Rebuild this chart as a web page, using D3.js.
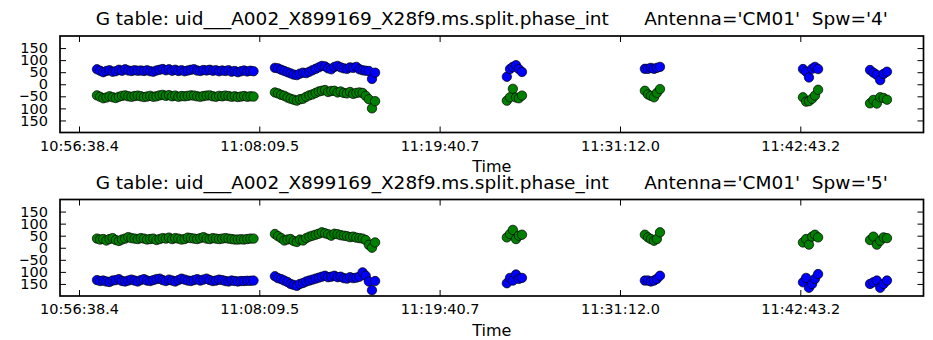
<!DOCTYPE html>
<html><head><meta charset="utf-8">
<script src="https://cdn.jsdelivr.net/npm/d3@7"></script>
<style>
body{margin:0;background:#fff}
svg{display:block}
text{font-family:"DejaVu Sans",sans-serif;fill:#000}
</style>
</head><body>
<svg id="c" width="933" height="340"></svg>
<script>
// ---- data ----
const xTickLabels = ["10:56:38.4","11:08:09.5","11:19:40.7","11:31:12.0","11:42:43.2"];
const yTickValues = [-150,-100,-50,0,50,100,150];
const spwNames = ["4","5"];
const tableName = "uid___A002_X899169_X28f9.ms.split.phase_int";
const antenna = "CM01";
// integration times, seconds after 10:56:38.4, one array per scan
const scanTimes = [
  [69,81,93,105,117,129,141,153,165,177,189,201,213,225,237,249,261,273,285,297,
   309,321,333,345,357,369,381,393,405,417,429,441,453,465,477,489,501,513,525,537,
   549,561,573,585,597,609,621,633,645,657,669],
  [751,763,775,787,799,811,823,835,847,859,871,883,895,907,919,931,943,955,967,979,
   991,1003,1015,1027,1039,1051,1063,1075,1087,1099,1111,1123,1135],
  [1640,1652,1663,1675,1686,1698],
  [2169,2181,2192,2204,2215,2227],
  [2775,2787,2798,2810,2821,2833],
  [3032,3045,3058,3071,3084,3097]
];
// phases (deg), polarization 1 (blue) and 2 (green), per scan
const spw4Pol1 = [
  [62,56,50,55,58,52,54,60,56,62,57,55,58,56,57,55,58,54,52,57,60,63,58,62,56,60,55,58,54,57,
   60,62,57,55,59,57,60,56,58,54,57,55,58,52,55,50,54,57,53,56,54],
  [68,66,60,55,50,45,40,38,44,48,46,52,58,64,70,76,74,66,62,72,76,70,66,64,70,68,72,62,58,56,55,22,48],
  [31,63,72,79,63,51],
  [64,64,68,64,68,72],
  [63,52,28,64,72,63],
  [59,48,39,17,43,52]
];
const spw4Pol2 = [
  [-46,-52,-58,-55,-50,-54,-57,-52,-48,-46,-50,-52,-49,-47,-50,-53,-51,-48,-52,-50,
   -46,-44,-48,-45,-50,-47,-52,-49,-50,-48,-46,-47,-50,-52,-49,-47,-46,-50,-52,-48,
   -50,-47,-49,-52,-50,-53,-51,-49,-52,-50,-51],
  [-34,-38,-44,-48,-55,-60,-64,-68,-62,-60,-52,-46,-42,-36,-30,-27,-24,-32,-28,-27,
   -34,-30,-36,-38,-32,-40,-36,-34,-36,-48,-62,-100,-70],
  [-68,-54,-19,-55,-58,-47],
  [-27,-42,-48,-54,-36,-20],
  [-54,-72,-70,-60,-47,-23],
  [-79,-65,-80,-54,-57,-64]
];
const spw5Pol1 = [
  [-134,-138,-136,-140,-142,-136,-134,-130,-138,-140,-136,-132,-136,-140,-134,-130,-136,-138,-134,-130,
   -128,-134,-138,-132,-136,-140,-134,-128,-132,-136,-138,-134,-130,-136,-132,-128,-134,-138,-136,-132,
   -134,-138,-140,-136,-138,-140,-138,-138,-137,-137,-136],
  [-118,-126,-130,-136,-142,-150,-154,-158,-150,-146,-140,-136,-132,-128,-124,-120,-116,-122,-120,-116,
   -122,-120,-126,-128,-122,-126,-124,-120,-102,-116,-140,-176,-138],
  [-147,-125,-136,-111,-129,-125],
  [-136,-136,-140,-136,-129,-116],
  [-143,-125,-166,-150,-129,-109],
  [-150,-143,-136,-166,-150,-136]
];
const spw5Pol2 = [
  [38,34,36,30,36,40,32,28,34,38,44,40,38,36,40,38,34,36,38,32,36,40,38,42,36,40,38,34,36,42,
   40,38,36,40,44,38,36,40,38,36,38,40,38,36,34,34,35,34,36,38,38],
  [57,48,40,30,34,36,28,24,34,30,40,46,50,54,58,64,60,56,50,58,56,52,50,48,44,46,42,40,38,32,12,0,22],
  [43,57,74,36,50,54],
  [54,43,36,29,36,64],
  [22,36,13,46,54,43],
  [32,46,13,29,43,40]
];

// ---- drawing ----
const parseT = s => { const p = s.split(":"); return +p[0]*3600 + +p[1]*60 + +p[2]; };
const t0 = parseT(xTickLabels[0]);
const tickSecs = xTickLabels.map(parseT);

const svg = d3.select("#c");
const L = 60, R = 923.5, PH = 96.5;
const panels = [
  {spw: spwNames[0], top: 36, pols: [spw4Pol1, spw4Pol2]},
  {spw: spwNames[1], top: 199.5, pols: [spw5Pol1, spw5Pol2]}
];
const colors = ["#0000ff", "#008000"];

const x = d3.scaleLinear().domain([t0 - 72.8, t0 + 3237]).range([L, R]);

svg.append("defs").append("clipPath").attr("id","ylab")
  .append("rect").attr("x", 20.5).attr("y", 0).attr("width", 60).attr("height", 340);

panels.forEach(p => {
  const y = d3.scaleLinear().domain([-200, 200]).range([p.top + PH, p.top]);
  const g = svg.append("g");

  // points
  p.pols.forEach((pol, pi) => {
    const pts = [];
    scanTimes.forEach((ts, si) => ts.forEach((t, k) => pts.push({t: t0 + t, v: pol[si][k]})));
    g.append("g").selectAll("circle").data(pts).join("circle")
      .attr("cx", d => x(d.t)).attr("cy", d => y(d.v)).attr("r", 4.7)
      .attr("fill", colors[pi]).attr("stroke", "#000").attr("stroke-width", 0.7);
  });

  // axes
  const fmt = d => xTickLabels[tickSecs.indexOf(d)];
  const ax = g.append("g").attr("transform", `translate(0,${p.top + PH})`)
    .call(d3.axisBottom(x).tickValues(tickSecs).tickFormat(fmt).tickSize(-6).tickPadding(8));
  const axT = g.append("g").attr("transform", `translate(0,${p.top})`)
    .call(d3.axisTop(x).tickValues(tickSecs).tickFormat("").tickSize(-6));
  const ayWrap = g.append("g").attr("clip-path", "url(#ylab)");
  const ay = ayWrap.append("g").attr("transform", `translate(${L},0)`)
    .call(d3.axisLeft(y).tickValues(yTickValues).tickFormat(d => d < 0 ? "\u2212" + Math.abs(d) : d).tickSize(-6).tickPadding(12));
  const ayR = g.append("g").attr("transform", `translate(${R},0)`)
    .call(d3.axisRight(y).tickValues(yTickValues).tickFormat("").tickSize(-6));
  [ax, axT, ay, ayR].forEach(a => {
    a.select(".domain").remove();
    a.selectAll(".tick line").attr("stroke", "#000").attr("stroke-width", 1);
    a.selectAll("text").attr("font-family", "DejaVu Sans").attr("font-size", 14.5).attr("fill", "#000");
  });

  // frame
  g.append("rect").attr("x", L).attr("y", p.top).attr("width", R - L).attr("height", PH)
    .attr("fill", "none").attr("stroke", "#000").attr("stroke-width", 1.7);

  // title
  g.append("text").attr("x", (L + R) / 2).attr("y", p.top - 11)
    .attr("text-anchor", "middle").attr("font-size", 18.5).style("white-space", "pre")
    .text(`G table: ${tableName}      Antenna='${antenna}'  Spw='${p.spw}'`);
  // x label
  g.append("text").attr("x", (L + R) / 2).attr("y", p.top + PH + 39.5)
    .attr("text-anchor", "middle").attr("font-size", 16).text("Time");
});
</script>
</body></html>
